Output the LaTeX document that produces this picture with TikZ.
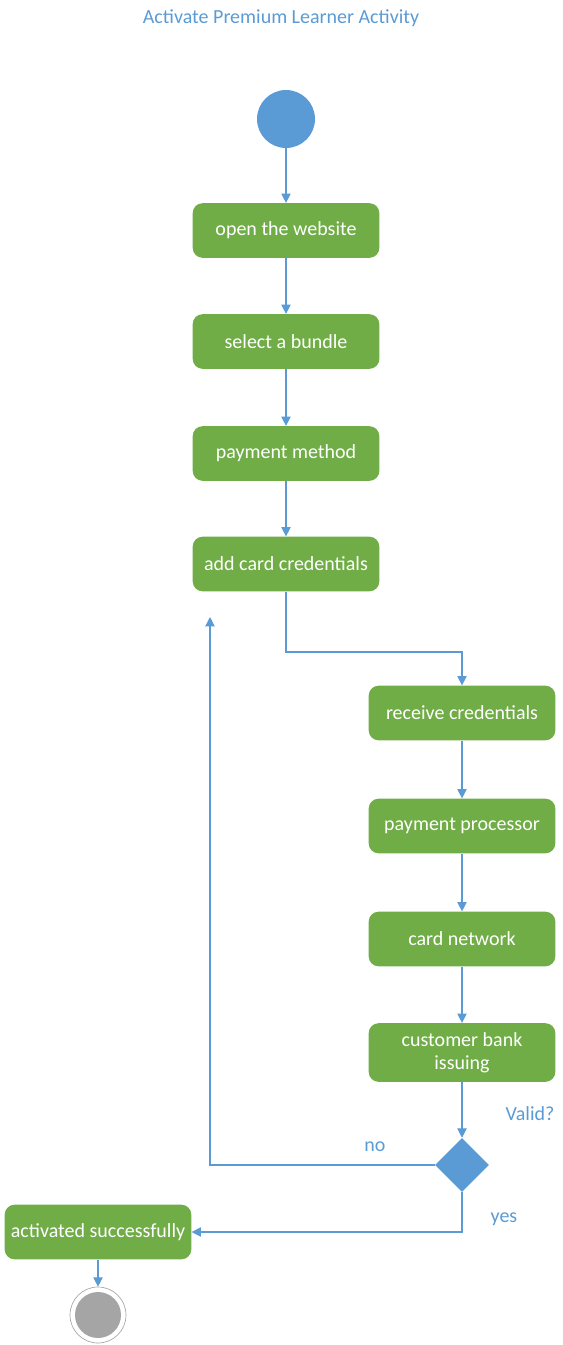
\documentclass[tikz,border=0pt]{standalone}
\usepackage{fontspec}
\setmainfont{Carlito}
\usetikzlibrary{shapes.geometric,arrows.meta}
\definecolor{boxgreen}{HTML}{70AD47}
\definecolor{lineblue}{HTML}{5B9BD5}
\definecolor{titleblue}{HTML}{5B9BD5}
\definecolor{endgray}{HTML}{A5A5A5}
\tikzset{
  act/.style={rectangle, rounded corners=7.5pt, fill=boxgreen, text=white,
    minimum width=140pt, minimum height=41pt, font=\fontsize{15}{17.3}\selectfont, align=center, inner sep=0pt},
  flow/.style={draw=lineblue, line width=0.8pt, -{Triangle[length=7pt,width=7pt]}},
  lbl/.style={text=titleblue, font=\fontsize{15}{17}\selectfont, inner sep=0pt},
}
\begin{document}
\begin{tikzpicture}[x=0.75pt,y=-0.75pt]
\useasboundingbox (0,0) rectangle (562,1345);
\node[text=titleblue, font=\fontsize{15}{17}\selectfont] (title) at (281,18) {Activate Premium Learner Activity};
\node[circle, fill=lineblue, minimum size=43.5pt, inner sep=0pt] (start) at (286,119) {};
\node[act] (a1) at (286,230.5) {open the website};
\node[act] (a2) at (286,341.5) {select a bundle};
\node[act] (a3) at (286,453.5) {payment method};
\node[act] (a4) at (286,564) {add card credentials};
\node[act] (b1) at (462,713) {receive credentials};
\node[act] (b2) at (462,826) {payment processor};
\node[act] (b3) at (462,939) {card network};
\node[act, minimum height=44pt] (b4) at (462,1052.5) {customer bank\\issuing};
\node[diamond, fill=lineblue, minimum width=40.5pt, minimum height=40.5pt, inner sep=0pt] (dec) at (462,1165) {};
\node[act] (done) at (98,1232) {activated successfully};
\node[circle, draw=endgray, line width=0.5pt, minimum size=42pt, inner sep=0pt] (endo) at (98,1315) {};
\node[circle, fill=endgray, minimum size=34.5pt, inner sep=0pt] (endi) at (98,1315) {};
\coordinate (c1) at (286,652);
\coordinate (c2) at (462,652);
\coordinate (n1) at (210,1165);
\coordinate (n2) at (210,617);
\coordinate (y1) at (462,1232);
\node[lbl] (valid) at (530,1114) {Valid?};
\node[lbl] (no) at (375,1147) {no};
\node[lbl] (yes) at (504,1219) {yes};
\draw[flow] (start) -- (a1);
\draw[flow] (a1) -- (a2);
\draw[flow] (a2) -- (a3);
\draw[flow] (a3) -- (a4);
\draw[flow] (a4.south) -- (c1) -- (c2) -- (b1.north);
\draw[flow] (b1) -- (b2);
\draw[flow] (b2) -- (b3);
\draw[flow] (b3) -- (b4);
\draw[flow] (b4) -- (dec);
\draw[flow] (dec.west) -- (n1) -- (n2);
\draw[flow] (dec.south) -- (y1) -- (done.east);
\draw[flow] (done) -- (endo);
\end{tikzpicture}
\end{document}
